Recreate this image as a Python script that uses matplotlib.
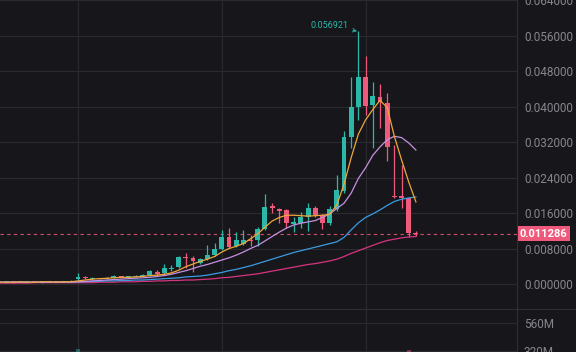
import numpy as np
import matplotlib
matplotlib.use("Agg")
import matplotlib.pyplot as plt
from matplotlib.lines import Line2D

plt.rcParams['font.family'] = ['Roboto', 'DejaVu Sans']

# === données (une bougie par entrée) ===
opens = [0.0004, 0.0004, 0.0005, 0.0004, 0.0005, 0.0005, 0.0004, 0.0005, 0.0006, 0.0005, 0.0006,
         0.0011, 0.0016, 0.0012, 0.0013, 0.0012, 0.0014, 0.0017, 0.0015, 0.0016, 0.0018,
         0.0020, 0.0028, 0.0024, 0.0034, 0.0038, 0.0059, 0.0059, 0.0047, 0.0056, 0.0065,
         0.0079, 0.0106, 0.0086, 0.0090, 0.0099, 0.0099, 0.0124, 0.0175, 0.0169, 0.0167,
         0.0136, 0.0138, 0.0151, 0.0171, 0.0156, 0.0137, 0.0169, 0.0210, 0.0331, 0.0399,
         0.0467, 0.0403, 0.0422, 0.0408, 0.0198, 0.0198, 0.0194, 0.0115]
closes = [0.0004, 0.0005, 0.0004, 0.0005, 0.0005, 0.0004, 0.0005, 0.0006, 0.0005, 0.0006, 0.0007,
          0.0016, 0.0013, 0.0013, 0.0012, 0.0014, 0.0017, 0.0015, 0.0017, 0.0019, 0.0021,
          0.0029, 0.0022, 0.0036, 0.0035, 0.0061, 0.0058, 0.0052, 0.0056, 0.0065, 0.0079,
          0.0106, 0.0083, 0.0099, 0.0099, 0.0096, 0.0124, 0.0174, 0.0172, 0.0165, 0.0137,
          0.0139, 0.0151, 0.0171, 0.0156, 0.0137, 0.0169, 0.0212, 0.0331, 0.0399, 0.0467,
          0.0401, 0.0424, 0.0410, 0.0309, 0.0196, 0.0194, 0.0115, 0.011286]
highs = [0.0005, 0.0006, 0.0006, 0.0006, 0.0006, 0.0006, 0.0006, 0.0007, 0.0007, 0.0007, 0.0008,
         0.0025, 0.0018, 0.0015, 0.0014, 0.0016, 0.0020, 0.0018, 0.0019, 0.0021, 0.0023,
         0.0031, 0.0031, 0.0045, 0.0043, 0.0063, 0.0070, 0.0062, 0.0059, 0.0088, 0.0092,
         0.0122, 0.0126, 0.0117, 0.0122, 0.0110, 0.0128, 0.0203, 0.0183, 0.0172, 0.0170,
         0.0151, 0.0162, 0.0183, 0.0176, 0.0158, 0.0176, 0.0246, 0.0345, 0.0467, 0.056921,
         0.0514, 0.0455, 0.0450, 0.0431, 0.0313, 0.0268, 0.0196, 0.0119]
lows = [0.0003, 0.0003, 0.0003, 0.0004, 0.0004, 0.0004, 0.0003, 0.0004, 0.0004, 0.0004, 0.0005,
        0.0009, 0.0011, 0.0010, 0.0011, 0.0011, 0.0013, 0.0014, 0.0014, 0.0015, 0.0017,
        0.0019, 0.0019, 0.0022, 0.0030, 0.0036, 0.0036, 0.0027, 0.0045, 0.0054, 0.0063,
        0.0077, 0.0081, 0.0084, 0.0088, 0.0086, 0.0086, 0.0122, 0.0160, 0.0137, 0.0126,
        0.0117, 0.0126, 0.0120, 0.0150, 0.0124, 0.0133, 0.0165, 0.0205, 0.0307, 0.0370,
        0.0381, 0.0307, 0.0352, 0.0277, 0.0194, 0.0171, 0.0106, 0.0108]

# moyennes mobiles
ma_orange = [0.0004, 0.0004, 0.0004, 0.0005, 0.0004, 0.0004, 0.0005, 0.0005, 0.0004, 0.0005, 0.0005,
             0.0007, 0.0009, 0.0011, 0.0012, 0.0013, 0.0014, 0.0015, 0.0015, 0.0016, 0.0017,
             0.0019, 0.0020, 0.0022, 0.0025, 0.0031, 0.0039, 0.0045, 0.0051, 0.0056, 0.0062,
             0.0072, 0.0080, 0.0085, 0.0091, 0.0102, 0.0113, 0.0128, 0.0142, 0.0150, 0.0155,
             0.0155, 0.0154, 0.0153, 0.0154, 0.0155, 0.0157, 0.0178, 0.0225, 0.0285, 0.0338,
             0.0370, 0.0393, 0.0414, 0.0398, 0.0333, 0.0280, 0.0230, 0.0185]
ma_purple = [0.0004, 0.0004, 0.0004, 0.0004, 0.0004, 0.0004, 0.0004, 0.0004, 0.0004, 0.0004, 0.0004,
             0.0005, 0.0006, 0.0007, 0.0008, 0.0009, 0.0010, 0.0011, 0.0012, 0.0013, 0.0014,
             0.0015, 0.0017, 0.0019, 0.0022, 0.0026, 0.0030, 0.0035, 0.0040, 0.0044, 0.0049,
             0.0054, 0.0059, 0.0065, 0.0072, 0.0080, 0.0087, 0.0097, 0.0107, 0.0117, 0.0126,
             0.0133, 0.0137, 0.0140, 0.0143, 0.0150, 0.0158, 0.0170, 0.0182, 0.0205, 0.0238,
             0.0262, 0.0290, 0.0309, 0.0325, 0.0333, 0.0330, 0.0318, 0.0302]
ma_blue = [0.0004, 0.0004, 0.0004, 0.0004, 0.0004, 0.0004, 0.0004, 0.0004, 0.0004, 0.0004, 0.0004,
           0.0005, 0.0005, 0.0006, 0.0006, 0.0007, 0.0007, 0.0008, 0.0008, 0.0009, 0.0009,
           0.0010, 0.0011, 0.0012, 0.0013, 0.0014, 0.0016, 0.0017, 0.0018, 0.0020, 0.0023,
           0.0026, 0.0030, 0.0033, 0.0037, 0.0041, 0.0046, 0.0051, 0.0056, 0.0061, 0.0066,
           0.0071, 0.0075, 0.0079, 0.0083, 0.0087, 0.0091, 0.0095, 0.0105, 0.0122, 0.0138,
           0.0150, 0.0158, 0.0167, 0.0177, 0.0186, 0.0191, 0.0194, 0.0196]
ma_magenta = [0.0002, 0.0002, 0.0002, 0.0002, 0.0002, 0.0003, 0.0003, 0.0003, 0.0003, 0.0003, 0.0003,
              0.0003, 0.0003, 0.0003, 0.0004, 0.0004, 0.0004, 0.0005, 0.0005, 0.0005, 0.0006,
              0.0006, 0.0007, 0.0007, 0.0008, 0.0008, 0.0009, 0.0009, 0.0010, 0.0011, 0.0012,
              0.0014, 0.0015, 0.0017, 0.0019, 0.0021, 0.0023, 0.0026, 0.0029, 0.0032, 0.0035,
              0.0038, 0.0041, 0.0044, 0.0046, 0.0049, 0.0052, 0.0056, 0.0062, 0.0069, 0.0075,
              0.0081, 0.0087, 0.0093, 0.0098, 0.0101, 0.0104, 0.0106, 0.0107]

# volume : seules les deux barres visibles en bas
vol_idx = [11, 57]
vol_vals = [335e6, 330e6]

price_ticks = [0.0, 0.008, 0.016, 0.024, 0.032, 0.040, 0.048, 0.056, 0.064]
vol_ticks = [320e6, 560e6]
vol_labels = ["320M", "560M"]
grid_idx = [11, 31, 51]

high_label = "0.056921"
last_price = 0.011286

# === couleurs ===
BG = "#17171b"
GRID = "#2a2a2f"
TXT = "#85858c"
UP = "#2bb8a8"
DOWN = "#ef5a7c"

opens = np.array(opens)
closes = np.array(closes)
highs = np.array(highs)
lows = np.array(lows)
x = np.arange(len(closes))

fig = plt.figure(figsize=(5.76, 3.52), dpi=100, facecolor=BG)
ax = fig.add_axes([0, 43 / 352, 517 / 576, 309 / 352])
vax = fig.add_axes([0, 0, 517 / 576, 43 / 352])

for a in (ax, vax):
    a.set_facecolor(BG)
    for s in ("top", "left", "bottom"):
        a.spines[s].set_visible(False)
    a.spines["right"].set_color("#2e2e34")
    a.spines["right"].set_linewidth(0.8)
    a.yaxis.tick_right()
    a.set_xticks(grid_idx)
    a.tick_params(axis="x", length=0, labelbottom=False)
    a.tick_params(axis="y", length=0, pad=5, labelcolor=TXT, labelsize=8.5)
    a.grid(True, color=GRID, linewidth=0.8)
    a.set_axisbelow(True)
    a.set_xlim(0.152, 72.06)

# --- bougies ---
colors = np.where(closes >= opens, UP, DOWN)
ax.vlines(x, lows, highs, colors=colors, linewidth=0.9, zorder=3)
body_bottom = np.minimum(opens, closes)
body_h = np.maximum(np.abs(closes - opens), 0.00018)
ax.bar(x, body_h, 0.68, bottom=body_bottom, color=colors, zorder=3)

# --- moyennes mobiles ---
ax.plot(x, ma_magenta, color="#d6347f", linewidth=0.9, zorder=4)
ax.plot(x, ma_blue, color="#3b9be0", linewidth=0.9, zorder=4)
ax.plot(x, ma_purple, color="#c490e0", linewidth=0.9, zorder=4)
ax.plot(x, ma_orange, color="#f0a63a", linewidth=0.9, zorder=4)

ax.set_ylim(-0.005635, 0.064014)
ax.set_yticks(price_ticks)
ax.set_yticklabels([f"{t:.6f}" for t in price_ticks])

# prix actuel
ax.axhline(last_price, color=DOWN, linewidth=0.8, linestyle=(0, (3, 3)), alpha=0.85, zorder=2)
ax.text(1.0 + 3 / 517, last_price, f"{last_price:.6f}", transform=ax.get_yaxis_transform(),
        ha="left", va="center", color="white", fontweight="bold", fontsize=8,
        bbox=dict(boxstyle="square,pad=0.22", fc=DOWN, ec="none"), clip_on=False, zorder=10)

# plus haut
i_high = int(np.argmax(highs))
ax.annotate(high_label, xy=(x[i_high], highs[i_high]), xytext=(-7, 4.5),
            textcoords="offset points", ha="right", va="center", color=UP, fontsize=6.5,
            arrowprops=dict(arrowstyle="->", color=UP, lw=0.6, shrinkA=1, shrinkB=1))

# --- volume ---
vcolors = [UP if closes[i] >= opens[i] else DOWN for i in vol_idx]
vax.bar(vol_idx, vol_vals, 0.6, color=vcolors, alpha=0.45)
vax.set_ylim(311e6, 680e6)
vax.set_yticks(vol_ticks)
vax.set_yticklabels(vol_labels)

# séparateur entre les panneaux
fig.add_artist(Line2D([0, 1], [43 / 352, 43 / 352], transform=fig.transFigure,
                      color="#2e2e34", linewidth=0.8))

fig.savefig("out.png", dpi=100, facecolor=BG)
